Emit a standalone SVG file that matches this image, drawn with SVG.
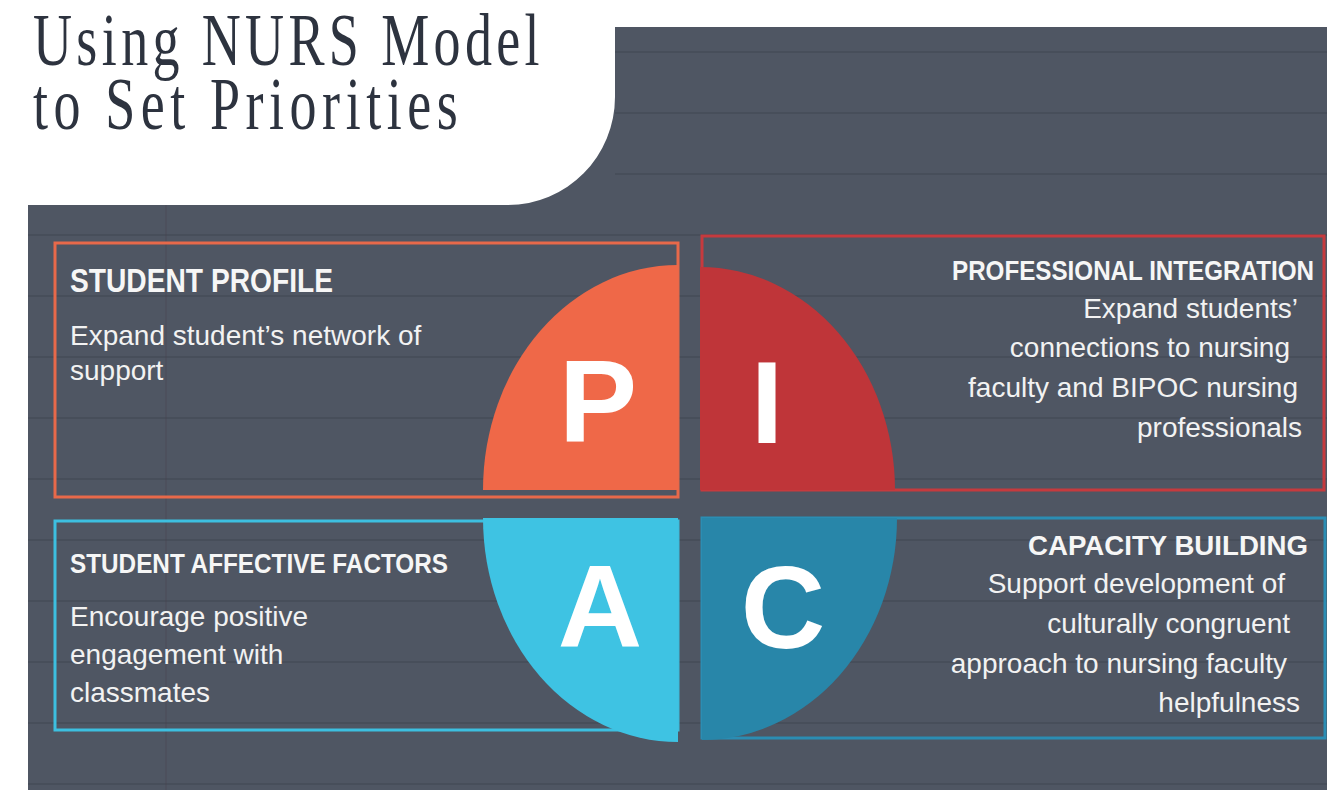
<svg xmlns="http://www.w3.org/2000/svg" width="1327" height="790" viewBox="0 0 1327 790">
  <style>
    .title { font-family: "Liberation Serif", "Times New Roman", serif; font-size: 74px; fill: #2d333f; }
    .head { font-family: "Liberation Sans", Arial, sans-serif; font-weight: bold; fill: #f6f6f6; }
    .body { font-family: "Liberation Sans", Arial, sans-serif; font-size: 28px; fill: #f2f2f2; }
    .end { text-anchor: end; }
    .letter { font-family: "Liberation Sans", Arial, sans-serif; font-weight: bold; font-size: 117px; fill: #ffffff; text-anchor: middle; }
    .rule { stroke: #3f4551; stroke-width: 2; opacity: 0.45; }
    .box { fill: none; stroke-width: 3; }
  </style>

  <!-- page -->
  <rect x="0" y="0" width="1327" height="790" fill="#ffffff"/>
  <path d="M615,27 H1327 V790 H28 V205 H508 A107,108 0 0 0 615,97 Z" fill="#4f5663"/>

  <!-- faint ruled-paper texture -->
  <g id="texture">
    <line class="rule" x1="615" y1="52" x2="1327" y2="52"/>
    <line class="rule" x1="615" y1="113" x2="1327" y2="113"/>
    <line class="rule" x1="615" y1="174" x2="1327" y2="174"/>
    <line class="rule" x1="28" y1="235" x2="1327" y2="235"/>
    <line class="rule" x1="28" y1="296" x2="1327" y2="296"/>
    <line class="rule" x1="28" y1="357" x2="1327" y2="357"/>
    <line class="rule" x1="28" y1="418" x2="1327" y2="418"/>
    <line class="rule" x1="28" y1="479" x2="1327" y2="479"/>
    <line class="rule" x1="28" y1="540" x2="1327" y2="540"/>
    <line class="rule" x1="28" y1="601" x2="1327" y2="601"/>
    <line class="rule" x1="28" y1="662" x2="1327" y2="662"/>
    <line class="rule" x1="28" y1="723" x2="1327" y2="723"/>
    <line class="rule" x1="28" y1="784" x2="1327" y2="784"/>
    <line x1="166" y1="205" x2="166" y2="790" stroke="#4a3f4c" stroke-width="1.5" opacity="0.3"/>
  </g>

  <!-- heading -->
  <g id="title" transform="translate(33,0) scale(0.73,1)">
    <text class="title" x="0" y="65" textLength="694" lengthAdjust="spacing">Using NURS Model</text>
    <text class="title" x="0" y="129" textLength="582" lengthAdjust="spacing">to Set Priorities</text>
  </g>

  <g id="connectors"></g>

  <!-- P: student profile -->
  <g id="node-profile">
    <rect class="box" x="55" y="243" width="623" height="254" stroke="#e8694a"/>
    <path d="M678,490 H483 A195,225 0 0 1 678,265 Z" fill="#ef6848"/>
    <text class="letter" x="598" y="441">P</text>
    <text class="head" x="70" y="292" font-size="33" textLength="263" lengthAdjust="spacingAndGlyphs">STUDENT PROFILE</text>
    <text class="body" x="70" y="345">Expand student’s network of</text>
    <text class="body" x="70" y="380">support</text>
  </g>

  <!-- I: professional integration -->
  <g id="node-integration">
    <rect class="box" x="702" y="236" width="622" height="254" stroke="#c63a3e"/>
    <path d="M700,490 V267 A195,223 0 0 1 895,490 Z" fill="#bf3539"/>
    <text class="letter" x="767" y="443">I</text>
    <text class="head" x="952" y="280" font-size="28" textLength="362" lengthAdjust="spacingAndGlyphs">PROFESSIONAL INTEGRATION</text>
    <text class="body end" x="1298" y="318">Expand students’</text>
    <text class="body end" x="1290" y="357">connections to nursing</text>
    <text class="body end" x="1298" y="397">faculty and BIPOC nursing</text>
    <text class="body end" x="1302" y="437">professionals</text>
  </g>

  <!-- A: student affective factors -->
  <g id="node-affective">
    <rect class="box" x="55" y="521" width="623" height="209" stroke="#3dbfe0"/>
    <path d="M678,518 H483 A195,224 0 0 0 678,742 Z" fill="#3ec3e3"/>
    <text class="letter" x="600" y="647">A</text>
    <text class="head" x="70" y="573" font-size="27" textLength="378" lengthAdjust="spacingAndGlyphs">STUDENT AFFECTIVE FACTORS</text>
    <text class="body" x="70" y="626">Encourage positive</text>
    <text class="body" x="70" y="664">engagement with</text>
    <text class="body" x="70" y="702">classmates</text>
  </g>

  <!-- C: capacity building -->
  <g id="node-capacity">
    <rect class="box" x="702" y="518" width="623" height="220" stroke="#2b8db3"/>
    <path d="M702,518 H897 A195,222 0 0 1 702,740 Z" fill="#2886a9"/>
    <text class="letter" x="783" y="648">C</text>
    <text class="head" x="1028" y="555" font-size="28" textLength="280" lengthAdjust="spacingAndGlyphs">CAPACITY BUILDING</text>
    <text class="body end" x="1285" y="593">Support development of</text>
    <text class="body end" x="1290" y="633">culturally congruent</text>
    <text class="body end" x="1287" y="673">approach to nursing faculty</text>
    <text class="body end" x="1300" y="712">helpfulness</text>
  </g>
</svg>
